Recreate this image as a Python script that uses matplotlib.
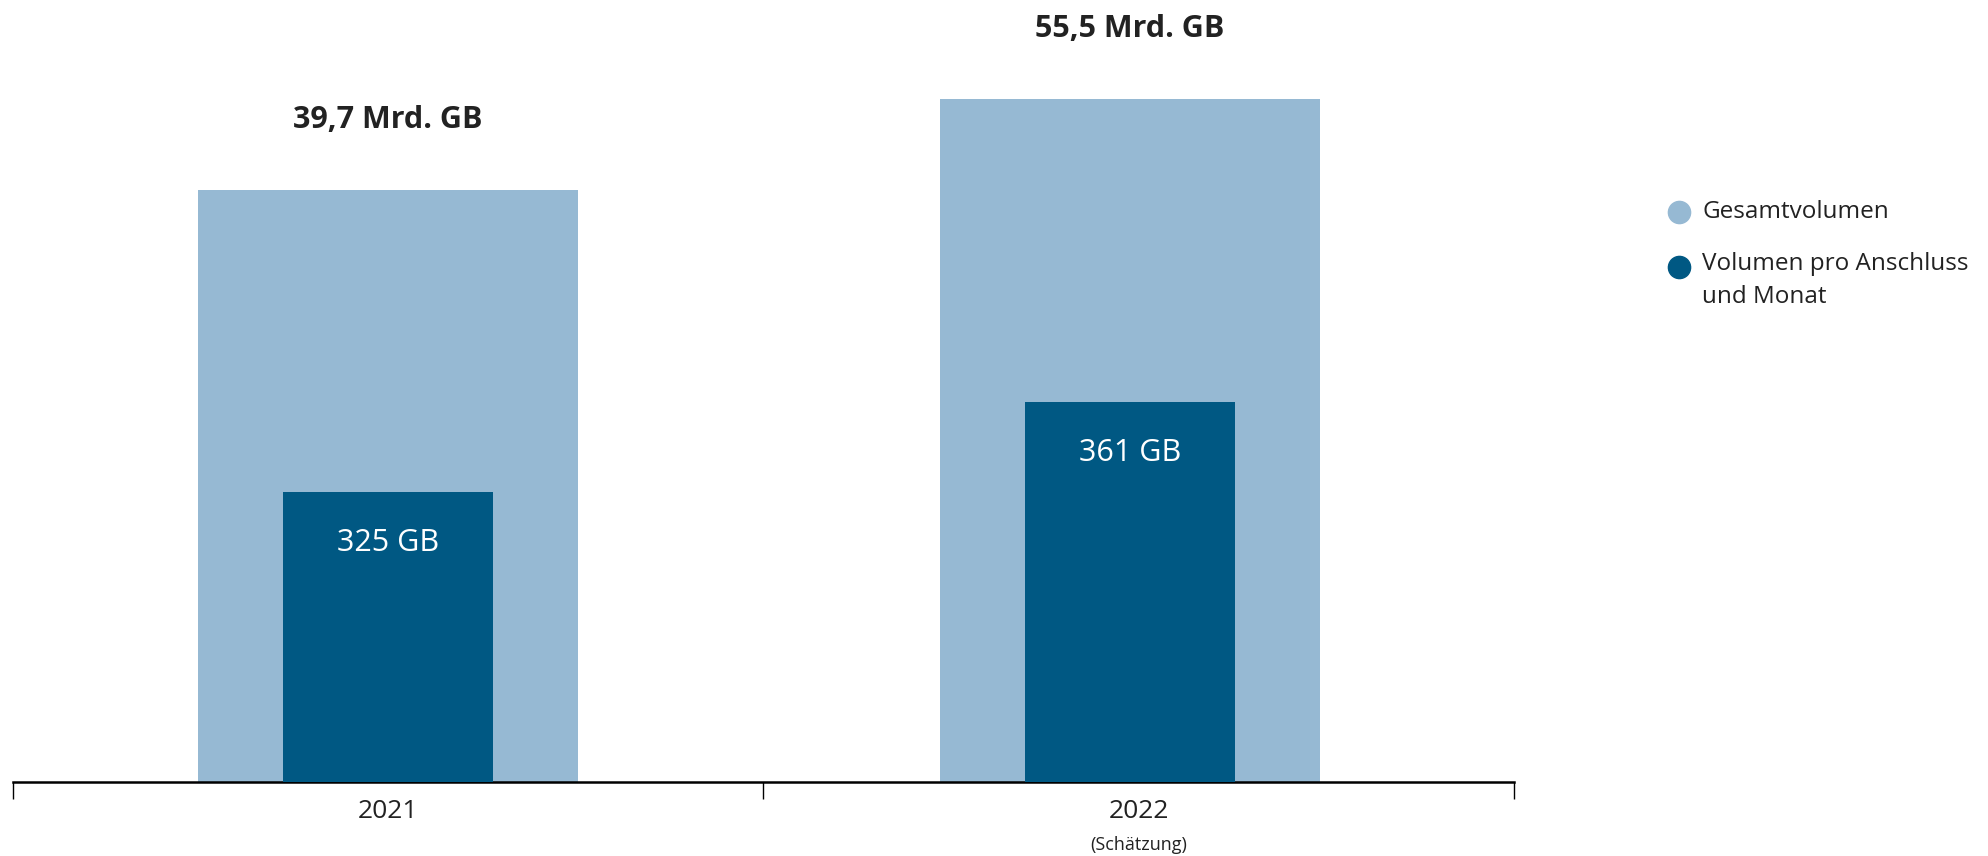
"""Datenvolumen im Festnetz: Gesamtvolumen vs. Volumen pro Anschluss und Monat."""

import matplotlib

matplotlib.use("Agg")
import matplotlib.pyplot as plt  # noqa: E402
from matplotlib.lines import Line2D  # noqa: E402

plt.rcParams["font.family"] = ["Open Sans", "DejaVu Sans"]

years = ["2021", "2022"]
year_notes = ["", "(Schätzung)"]
total_volume = [39.7, 55.5]        # Mrd. GB
per_line_volume = [325, 361]       # GB pro Anschluss und Monat
total_labels = ["39,7 Mrd. GB", "55,5 Mrd. GB"]
per_line_labels = ["325 GB", "361 GB"]
legend_labels = ["Gesamtvolumen", "Volumen pro Anschluss\nund Monat"]

LIGHT = "#96b9d3"
DARK = "#005883"
TEXT = "#222222"

W, H = 1988, 856
fig = plt.figure(figsize=(W / 100, H / 100), dpi=100)

# plot area in pixels: x 13..1514, axis line at y=782 (from top)
left, right, base = 13, 1514, 782
ax = fig.add_axes([left / W, (H - base) / H, (right - left) / W, base / H])
ax2 = ax.twinx()

# the source chart is not drawn to scale from zero; each series gets its own
# truncated scale so the bar tops land where the original puts them
ax.set_ylim(-63.1, 72.7)
ax2.set_ylim(209.0, 521.8)

# the 2022 bars sit a touch left of their category centre in the original
x = [0, 0.988]
lo1 = ax.get_ylim()[0]
lo2 = ax2.get_ylim()[0]
ax.bar(x, [v - lo1 for v in total_volume], bottom=lo1, width=0.506,
       color=LIGHT, zorder=1)
ax2.bar(x, [v - lo2 for v in per_line_volume], bottom=lo2, width=0.28,
        color=DARK, zorder=2)

for xi, v, lab in zip(x, total_volume, total_labels):
    ax.annotate(lab, (xi, v), xytext=(0, 70), textcoords="offset pixels",
                ha="center", va="center", fontsize=22, fontweight="bold",
                color=TEXT)
for xi, v, lab in zip(x, per_line_volume, per_line_labels):
    ax2.annotate(lab, (xi, v), xytext=(0, -51), textcoords="offset pixels",
                 ha="center", va="center", fontsize=22, color="white")

ax.set_xlim(-0.5, len(years) - 0.5)
for a in (ax, ax2):
    for s in ("top", "right", "left"):
        a.spines[s].set_visible(False)
    a.set_yticks([])
ax2.spines["bottom"].set_visible(False)
ax.spines["bottom"].set_linewidth(1.8)
ax.spines["bottom"].set_color("black")

ax.set_xticks([i - 0.5 for i in range(len(years) + 1)], minor=True)
ax.tick_params(axis="x", which="minor", length=12, width=1, color="black",
               direction="out")
ax.set_xticks(range(len(years)))
ax.set_xticklabels(years, fontsize=19, color=TEXT)
ax.tick_params(axis="x", which="major", length=0, pad=12)
for i, note in enumerate(year_notes):
    if note:
        ax.annotate(note, (i, lo1), xytext=(0, -63), textcoords="offset pixels",
                    ha="center", va="center", fontsize=13, color=TEXT,
                    annotation_clip=False)

# legend drawn in pixel coordinates
lg = fig.add_axes([0, 0, 1, 1])
lg.set_xlim(0, W)
lg.set_ylim(H, 0)
lg.axis("off")
for cy, col, lab in zip((212, 267), (LIGHT, DARK), legend_labels):
    lg.add_line(Line2D([1679], [cy], marker="o", markersize=16,
                       color=col, linestyle="none"))
    multi = "\n" in lab
    lg.text(1702, cy - 15 if multi else cy, lab, ha="left",
            va="top" if multi else "center", fontsize=17.5,
            color=TEXT, linespacing=1.5)

fig.savefig("out.png", dpi=100)
